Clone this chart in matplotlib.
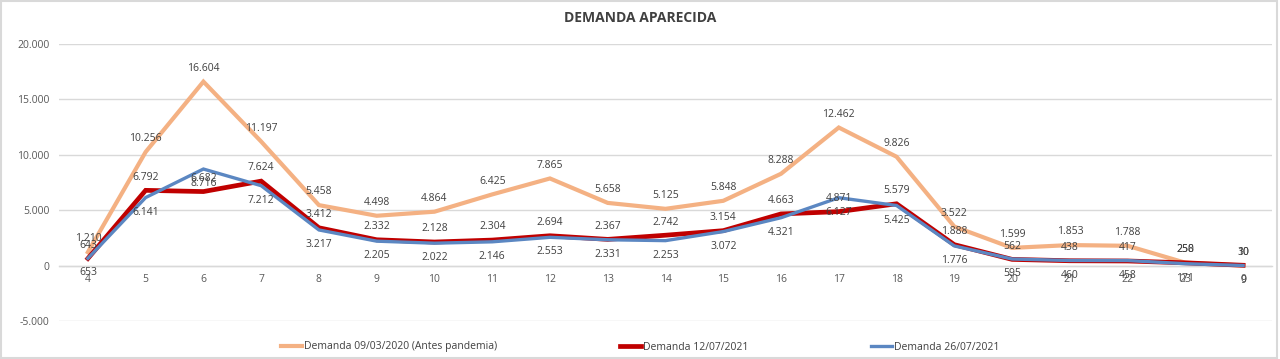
import matplotlib
matplotlib.use("Agg")
import matplotlib.pyplot as plt
from matplotlib.patches import Rectangle

hours = ["4", "5", "6", "7", "8", "9", "10", "11", "12", "13", "14", "15",
         "16", "17", "18", "19", "20", "21", "22", "23", "0"]
demanda_2020 = [1210, 10256, 16604, 11197, 5458, 4498, 4864, 6425, 7865, 5658,
                5125, 5848, 8288, 12462, 9826, 3522, 1599, 1853, 1788, 258, 10]
demanda_1207 = [643, 6792, 6682, 7624, 3412, 2332, 2128, 2304, 2694, 2367,
                2742, 3154, 4663, 4871, 5579, 1888, 562, 438, 417, 250, 30]
demanda_2607 = [653, 6141, 8716, 7212, 3217, 2205, 2022, 2146, 2553, 2331,
                2253, 3072, 4321, 6127, 5425, 1776, 595, 460, 458, 171, 9]
series_names = ["Demanda 09/03/2020 (Antes pandemia)", "Demanda 12/07/2021",
                "Demanda 26/07/2021"]
y_ticks = [-5000, 0, 5000, 10000, 15000, 20000]

plt.rcParams['font.family'] = ['Open Sans', 'DejaVu Sans']

fig = plt.figure(figsize=(12.8, 3.59), dpi=100)
ax = fig.add_axes([59 / 1280, 1 - 321 / 359, (1272 - 59) / 1280, (321 - 44) / 359])

# axis styling first (spine repositioning resets tick styling)
for s in ("top", "right", "left"):
    ax.spines[s].set_visible(False)
ax.spines["bottom"].set_position(("data", 0))
ax.spines["bottom"].set_color("#D9D9D9")
ax.spines["bottom"].set_linewidth(1)
ax.patch.set_visible(False)

x = list(range(len(hours)))
colors = ["#F4B183", "#C00000", "#5B87C2"]
widths = [3.0, 3.4, 2.4]
data = [demanda_2020, demanda_1207, demanda_2607]
for vals, c, lw, name in zip(data, colors, widths, series_names):
    ax.plot(x, vals, color=c, lw=lw, label=name, solid_joinstyle='miter', zorder=3)

def fmt(v):
    s = f"{abs(v):,}".replace(",", ".")
    return ("-" if v < 0 else "") + s

label_color = "#404040"
for vals, dy in ((demanda_2020, 9.5), (demanda_1207, 9.5), (demanda_2607, -10.5)):
    for xi, v in zip(x, vals):
        ax.annotate(fmt(v), (xi, v), xytext=(0, dy), textcoords="offset points",
                    ha="center", va="center", fontsize=7.5, color=label_color, zorder=5)

ax.set_xlim(-0.5, len(hours) - 0.5)
ax.set_ylim(-5000, 20000)
ax.set_yticks(y_ticks)
ax.set_yticklabels([fmt(v) for v in y_ticks], fontsize=7.5, color="#595959")
ax.set_xticks(x)
ax.set_xticklabels(hours, fontsize=7.5, color="#595959")
ax.tick_params(axis="both", length=0)
ax.tick_params(axis="y", pad=7)
ax.tick_params(axis="x", pad=6)
ax.grid(axis="y", color="#D9D9D9", lw=1)
ax.set_axisbelow(True)

fig.text(0.5, 1 - 18 / 359, "DEMANDA APARECIDA", ha="center", va="center",
         fontsize=10, fontweight="bold", color="#404040",
         family=['Liberation Sans Narrow', 'Open Sans', 'DejaVu Sans'])

fig.legend(loc="center", bbox_to_anchor=(0.5, 1 - 347 / 359), ncol=3, frameon=False,
           fontsize=7.5, handlelength=2.0, handletextpad=0.2, columnspacing=11.8,
           labelcolor="#404040")

fig.add_artist(Rectangle((0.001, 0.003), 0.997, 0.994, transform=fig.transFigure,
                         fill=False, edgecolor="#D9D9D9", lw=1.5))

fig.savefig("out.png", dpi=100, facecolor="white")
